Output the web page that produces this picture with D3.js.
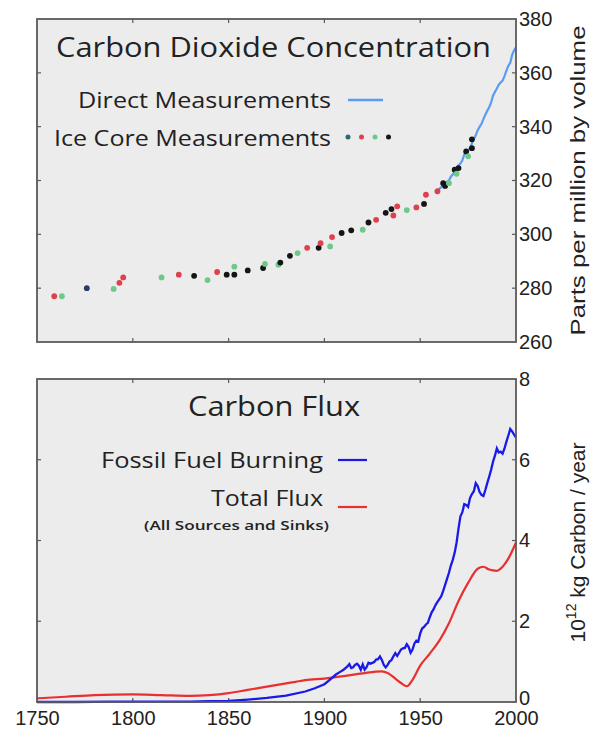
<!DOCTYPE html>
<html><head><meta charset="utf-8">
<script src="https://cdn.jsdelivr.net/npm/d3@7"></script>
<style>body{margin:0;background:#fff}svg{display:block}</style>
</head><body>
<script>
// ---------- DATA ----------
const xTickYears = [1750, 1800, 1850, 1900, 1950, 2000];
const co2Ticks = [260, 280, 300, 320, 340, 360, 380];
const fluxTicks = [0, 2, 4, 6, 8];

// Ice core measurements: [year, ppm, colourGroup]
const iceYears = [1759,1763,1776,1790,1793,1795,1815,1824,1832,1839,1844,1849,1853,1853,1860,1868,1869,1876,1877,1882,1886,1891,1897,1898,1903,1904,1909,1914,1920,1923,1927,1932,1935,1936,1938,1943,1948,1952,1953,1959,1962,1963,1965,1968,1969,1970,1974,1975,1977,1977];
const icePpm   = [277.0,277.0,280.0,279.7,282.0,284.0,284.0,285.0,284.6,283.0,286.0,285.0,285.0,288.0,286.6,287.5,289.0,288.7,289.5,292.0,293.0,295.0,295.0,296.7,295.5,299.0,300.5,301.5,301.7,304.4,305.4,308.0,309.4,307.0,310.4,309.0,310.0,311.3,314.7,316.0,319.0,318.0,319.0,324.0,322.5,324.6,330.8,329.0,332.0,335.3];
const iceGroup = ["red","green","blue","green","red","red","green","red","black","green","red","black","black","green","black","black","green","green","black","black","green","red","black","red","green","red","black","black","green","black","red","black","black","red","red","green","red","black","red","red","black","black","green","black","green","black","black","green","black","black"];

// Direct measurements (Mauna Loa, annual)
const directYears = [1958,1959,1960,1961,1962,1963,1964,1965,1966,1967,1968,1969,1970,1971,1972,1973,1974,1975,1976,1977,1978,1979,1980,1981,1982,1983,1984,1985,1986,1987,1988,1989,1990,1991,1992,1993,1994,1995,1996,1997,1998,1999,2000];
const directPpm   = [315.3,316.0,316.9,317.6,318.4,318.9,319.6,320.0,321.4,322.2,323.0,324.6,325.7,326.3,327.5,329.7,330.2,331.1,332.1,333.8,335.4,336.8,338.7,339.9,341.1,342.8,344.4,345.9,347.2,348.9,351.5,352.9,354.2,355.6,356.4,357.1,358.8,360.8,362.6,363.7,366.7,368.4,369.5];

// Carbon flux (10^12 kg C / year)
const fossilYears = [1750,1770,1790,1810,1830,1840,1850,1860,1870,1880,1890,1895,1900,1902,1904,1906,1908,1910,1911,1912,1913,1914,1915,1916,1917,1918,1919,1920,1921,1922,1923,1924,1925,1926,1927,1928,1929,1930,1931,1932,1933,1934,1935,1936,1937,1938,1939,1940,1941,1942,1943,1944,1945,1946,1947,1948,1949,1950,1951,1952,1953,1954,1955,1956,1957,1958,1959,1960,1961,1962,1963,1964,1965,1966,1967,1968,1969,1970,1971,1972,1973,1974,1975,1976,1977,1978,1979,1980,1981,1982,1983,1984,1985,1986,1987,1988,1989,1990,1991,1992,1993,1994,1995,1996,1997,1998,1999,2000];
const fossilVals  = [0.00,0.00,0.01,0.01,0.01,0.02,0.03,0.06,0.10,0.16,0.26,0.34,0.44,0.52,0.60,0.68,0.74,0.80,0.84,0.88,0.94,0.84,0.86,0.92,0.95,0.90,0.80,0.93,0.80,0.86,0.97,0.95,0.97,0.99,1.05,1.06,1.13,1.04,0.92,0.86,0.92,1.00,1.04,1.13,1.21,1.14,1.22,1.30,1.33,1.34,1.43,1.36,1.22,1.30,1.45,1.52,1.50,1.70,1.82,1.86,1.92,1.96,2.10,2.22,2.30,2.40,2.48,2.55,2.62,2.75,2.90,3.05,3.20,3.38,3.52,3.70,3.95,4.30,4.60,4.70,4.90,4.88,4.83,5.05,5.15,5.22,5.42,5.35,5.20,5.13,5.10,5.25,5.42,5.58,5.75,5.95,6.10,6.28,6.18,6.20,6.15,6.28,6.45,6.60,6.76,6.70,6.62,6.55];

const totalYears = [1750,1765,1780,1800,1815,1830,1840,1850,1860,1870,1880,1885,1890,1900,1910,1920,1930,1933,1937,1940,1943,1946,1950,1955,1960,1965,1970,1975,1980,1983,1986,1990,1993,1996,2000];
const totalVals  = [0.09,0.13,0.17,0.19,0.17,0.15,0.17,0.22,0.30,0.38,0.46,0.50,0.54,0.58,0.64,0.71,0.76,0.72,0.58,0.47,0.39,0.55,0.90,1.20,1.52,1.95,2.50,2.95,3.30,3.35,3.28,3.25,3.35,3.55,3.95];

// ---------- LAYOUT ----------
const W = 592, H = 732;
const L = 37, R = 516;
const topPanel = {y0: 19, y1: 342};
const botPanel = {y0: 379, y1: 702};
const bg = "#ececec", frameCol = "#5a5a5a";
const titleFont = "'Open Sans', 'Noto Sans', sans-serif";
const axisFont = "'Liberation Sans', Arial, sans-serif";
const groupColor = {red: "#e0404c", green: "#6cc98a", black: "#151515", blue: "#2a3a6a"};

const svg = d3.select("body").append("svg").attr("width", W).attr("height", H);

const x = d3.scaleLinear().domain([1750, 2000]).range([L, R]);
const yTop = d3.scaleLinear().domain([260, 380]).range([topPanel.y1, topPanel.y0]);
const yBot = d3.scaleLinear().domain([0, 8]).range([botPanel.y1, botPanel.y0]);

function panel(p, y, yTicks) {
  const g = svg.append("g");
  g.append("rect").attr("x", L).attr("y", p.y0).attr("width", R - L).attr("height", p.y1 - p.y0)
    .attr("fill", bg);
  const inner = xTickYears.slice(1, -1);
  g.selectAll(".xtb").data(inner).join("line")
    .attr("x1", d => x(d)).attr("x2", d => x(d))
    .attr("y1", p.y1).attr("y2", p.y1 - 4).attr("stroke", frameCol).attr("stroke-width", 1.2);
  g.selectAll(".xtt").data(inner).join("line")
    .attr("x1", d => x(d)).attr("x2", d => x(d))
    .attr("y1", p.y0).attr("y2", p.y0 + 4).attr("stroke", frameCol).attr("stroke-width", 1.2);
  const innerY = yTicks.slice(1, -1);
  g.selectAll(".ytl").data(innerY).join("line")
    .attr("x1", L).attr("x2", L + 4).attr("y1", d => y(d)).attr("y2", d => y(d))
    .attr("stroke", frameCol).attr("stroke-width", 1.2);
  g.selectAll(".ytr").data(innerY).join("line")
    .attr("x1", R).attr("x2", R - 4).attr("y1", d => y(d)).attr("y2", d => y(d))
    .attr("stroke", frameCol).attr("stroke-width", 1.2);
  const ax = d3.axisRight(y).tickValues(yTicks).tickSize(0).tickPadding(3).tickFormat(d3.format("d"));
  const axg = svg.append("g").attr("transform", `translate(${R},0)`).call(ax);
  axg.select(".domain").remove();
  axg.selectAll("text").attr("font-family", axisFont).attr("font-size", 20).attr("fill", "#222");
  return axg;
}

panel(topPanel, yTop, co2Ticks);
const botAxis = panel(botPanel, yBot, fluxTicks);
// lift the "0" label a little so it clears the year labels below
botAxis.selectAll(".tick").filter(d => d === 0).select("text").attr("dy", "0.12em");

// ---------- TOP: CO2 ----------
const gTop = svg.append("g");
svg.append("clipPath").attr("id", "clipTop").append("rect")
  .attr("x", L).attr("y", topPanel.y0).attr("width", R - L).attr("height", topPanel.y1 - topPanel.y0);
gTop.append("path")
  .datum(directYears.map((d, i) => [d, directPpm[i]]))
  .attr("clip-path", "url(#clipTop)")
  .attr("fill", "none").attr("stroke", "#5a9cf2").attr("stroke-width", 2.2)
  .attr("d", d3.line().x(d => x(d[0])).y(d => yTop(d[1])));
gTop.selectAll("circle.ice").data(iceYears.map((d, i) => ({yr: d, v: icePpm[i], g: iceGroup[i]})))
  .join("circle").attr("class", "ice")
  .attr("cx", d => x(d.yr)).attr("cy", d => yTop(d.v)).attr("r", 2.9)
  .attr("fill", d => groupColor[d.g]);

svg.append("text").attr("x", 56).attr("y", 57).text("Carbon Dioxide Concentration")
  .attr("font-family", titleFont).attr("font-size", 28).attr("fill", "#222")
  .attr("textLength", 435).attr("lengthAdjust", "spacingAndGlyphs");
svg.append("text").attr("x", 331).attr("y", 108).attr("text-anchor", "end").text("Direct Measurements")
  .attr("font-family", titleFont).attr("font-size", 22).attr("fill", "#222")
  .attr("textLength", 253).attr("lengthAdjust", "spacingAndGlyphs");
svg.append("line").attr("x1", 348).attr("x2", 383).attr("y1", 100).attr("y2", 100)
  .attr("stroke", "#5a9cf2").attr("stroke-width", 2.5);
svg.append("text").attr("x", 331).attr("y", 146).attr("text-anchor", "end").text("Ice Core Measurements")
  .attr("font-family", titleFont).attr("font-size", 22).attr("fill", "#222")
  .attr("textLength", 277).attr("lengthAdjust", "spacingAndGlyphs");
const legendDots = ["blue", "red", "green", "black"];
svg.selectAll("circle.leg").data(legendDots).join("circle").attr("class", "leg")
  .attr("cx", (d, i) => 348 + i * 13.5).attr("cy", 137).attr("r", 2.5)
  .attr("fill", d => d === "blue" ? "#2a6a6a" : groupColor[d]);

svg.append("text")
  .attr("transform", `translate(585,${(topPanel.y0 + topPanel.y1) / 2}) rotate(-90)`)
  .attr("text-anchor", "middle").text("Parts per million by volume")
  .attr("font-family", axisFont).attr("font-size", 21).attr("fill", "#222")
  .attr("textLength", 310).attr("lengthAdjust", "spacingAndGlyphs");

// ---------- BOTTOM: FLUX ----------
const gBot = svg.append("g");
gBot.append("path").datum(totalYears.map((d, i) => [d, totalVals[i]]))
  .attr("fill", "none").attr("stroke", "#e83030").attr("stroke-width", 2.2)
  .attr("d", d3.line().curve(d3.curveMonotoneX).x(d => x(d[0])).y(d => yBot(d[1])));
gBot.append("path").datum(fossilYears.map((d, i) => [d, fossilVals[i]]))
  .attr("fill", "none").attr("stroke", "#1a1ae8").attr("stroke-width", 2.3)
  .attr("d", d3.line().x(d => x(d[0])).y(d => yBot(d[1])));

svg.append("text").attr("x", 188).attr("y", 416).text("Carbon Flux")
  .attr("font-family", titleFont).attr("font-size", 28).attr("fill", "#222")
  .attr("textLength", 172).attr("lengthAdjust", "spacingAndGlyphs");
svg.append("text").attr("x", 323).attr("y", 468).attr("text-anchor", "end").text("Fossil Fuel Burning")
  .attr("font-family", titleFont).attr("font-size", 22).attr("fill", "#222")
  .attr("textLength", 222).attr("lengthAdjust", "spacingAndGlyphs");
svg.append("line").attr("x1", 338).attr("x2", 367).attr("y1", 460).attr("y2", 460)
  .attr("stroke", "#1a1ae8").attr("stroke-width", 2.2);
svg.append("text").attr("x", 323).attr("y", 506).attr("text-anchor", "end").text("Total Flux")
  .attr("font-family", titleFont).attr("font-size", 22).attr("fill", "#222")
  .attr("textLength", 112).attr("lengthAdjust", "spacingAndGlyphs");
svg.append("line").attr("x1", 338).attr("x2", 367).attr("y1", 507).attr("y2", 507)
  .attr("stroke", "#e83030").attr("stroke-width", 2.2);
svg.append("text").attr("x", 329).attr("y", 530).attr("text-anchor", "end").text("(All Sources and Sinks)")
  .attr("font-family", titleFont).attr("font-size", 13).attr("font-weight", 600).attr("fill", "#222")
  .attr("textLength", 185).attr("lengthAdjust", "spacingAndGlyphs");

const yl = svg.append("text")
  .attr("transform", `translate(585,${(botPanel.y0 + botPanel.y1) / 2 + 2}) rotate(-90)`)
  .attr("text-anchor", "middle")
  .attr("font-family", axisFont).attr("font-size", 21).attr("fill", "#222");
yl.append("tspan").text("10");
yl.append("tspan").attr("dy", -9).attr("font-size", 14).text("12");
yl.append("tspan").attr("dy", 9).text(" kg Carbon / year");

// frames
[topPanel, botPanel].forEach(p => {
  svg.append("rect").attr("x", L).attr("y", p.y0).attr("width", R - L).attr("height", p.y1 - p.y0)
    .attr("fill", "none").attr("stroke", frameCol).attr("stroke-width", 1.8);
});

// bottom x axis labels
const xa = svg.append("g").attr("transform", `translate(0,${botPanel.y1})`)
  .call(d3.axisBottom(x).tickValues(xTickYears).tickSize(0).tickPadding(9).tickFormat(d3.format("d")));
xa.select(".domain").remove();
xa.selectAll("text").attr("font-family", axisFont).attr("font-size", 20).attr("fill", "#222");
</script>
</body></html>
